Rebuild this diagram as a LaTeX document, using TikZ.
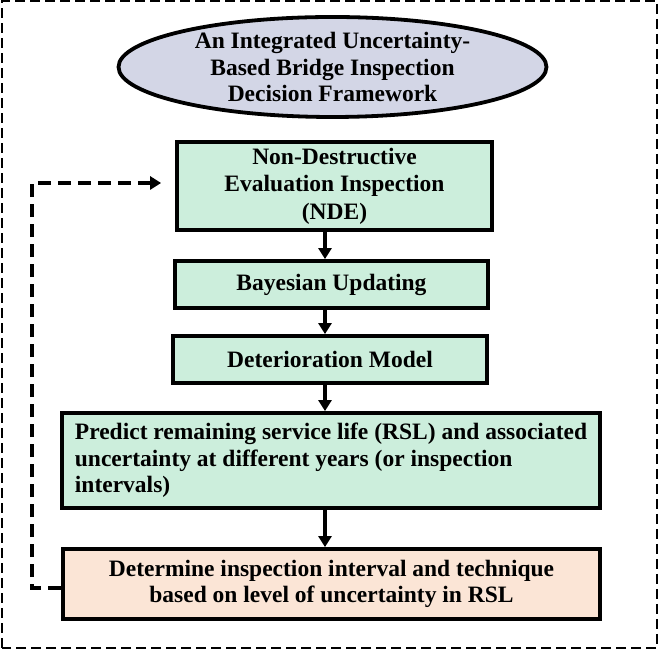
\documentclass[tikz,border=0pt]{standalone}
\usepackage{fontspec}
\setmainfont{Liberation Serif}
\usetikzlibrary{arrows.meta,shapes.geometric}
\definecolor{ellfill}{HTML}{D3D6E6}
\definecolor{boxgreen}{HTML}{CCEEDC}
\definecolor{boxpeach}{HTML}{FBE5D6}
\begin{document}
\begin{tikzpicture}[x=1pt,y=1pt,
  font=\fontsize{23.5}{26.5}\selectfont\bfseries,
  stepbox/.style={draw, line width=3.8pt, fill=boxgreen, align=center, inner sep=0pt},
  flow/.style={line width=3.4pt, -{Triangle[width=13pt,length=11pt]}},
  back/.style={line width=4pt, dash pattern=on 13pt off 7pt, -{Triangle[width=13pt,length=11pt]}}]
\useasboundingbox (0,0) rectangle (659,650);
\draw[line width=2.8pt, dash pattern=on 10pt off 5pt] (2,2) rectangle (657,649);
\node[ellipse, draw, line width=3.8pt, fill=ellfill, minimum width=428, minimum height=100, inner sep=0pt, align=center] (top) at (332.5,583)
  {An Integrated Uncertainty-\\Based Bridge Inspection\\Decision Framework};
\node[stepbox, minimum width=315, minimum height=88, font=\fontsize{23.5}{27.5}\selectfont\bfseries] (nde) at (334.5,464)
  {Non-Destructive\\Evaluation Inspection\\(NDE)};
\node[stepbox, minimum width=313, minimum height=47] (bay) at (331.5,365.5) {Bayesian Updating};
\node[stepbox, minimum width=314, minimum height=47] (det) at (330,290.5) {Deterioration Model};
\node[stepbox, minimum width=538, minimum height=95, align=left] (rsl) at (331,189.5)
  {Predict remaining service life (RSL) and associated\\uncertainty at different years (or inspection\\intervals)};
\node[stepbox, fill=boxpeach, minimum width=537, minimum height=70] (dec) at (331.5,66)
  {Determine inspection interval and technique\\based on level of uncertainty in RSL};
\coordinate (ax) at (325,0);
\draw[flow] (nde.south -| ax) -- (bay.north -| ax);
\draw[flow] (bay.south -| ax) -- (det.north -| ax);
\draw[flow] (det.south -| ax) -- (rsl.north -| ax);
\draw[flow] (rsl.south -| ax) -- (dec.north -| ax);
\coordinate (fb) at (32,0);
\coordinate (fbtop) at (0,467);
\draw[back] ([yshift=-4pt]dec.west) -- ([yshift=-4pt]dec.west -| fb) -- (fb |- fbtop) -- ([xshift=-14pt]nde.west |- fbtop);
\end{tikzpicture}
\end{document}
